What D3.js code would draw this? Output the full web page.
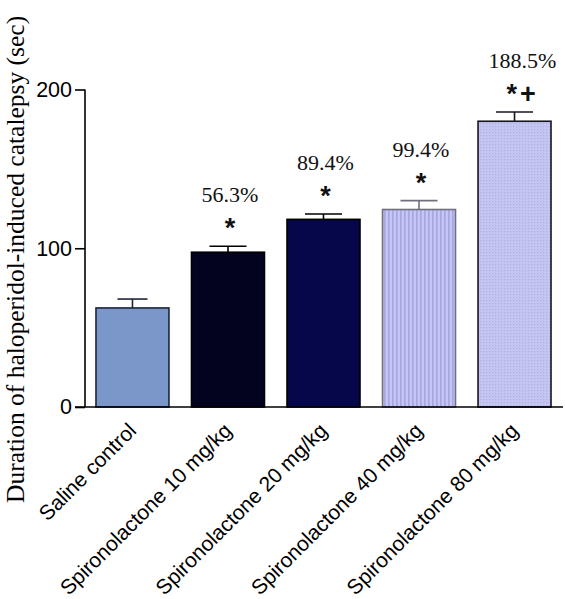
<!DOCTYPE html>
<html>
<head>
<meta charset="utf-8">
<script src="https://cdn.jsdelivr.net/npm/d3@7/dist/d3.min.js"></script>
<style>
  html, body { margin: 0; padding: 0; background: #fff; }
  svg { display: block; }
</style>
</head>
<body>
<script>
// ---- data ----
const categories = ["Saline control", "Spironolactone 10 mg/kg", "Spironolactone 20 mg/kg", "Spironolactone 40 mg/kg", "Spironolactone 80 mg/kg"];
const means = [62.4, 97.5, 118.2, 124.4, 180.0];
const sems = [5.6, 3.8, 3.4, 5.6, 5.8];
const percentLabels = ["", "56.3%", "89.4%", "99.4%", "188.5%"];
const sigLabels = ["", "*", "*", "*", "*+"];
const yTicks = [0, 100, 200];
const yTitle = "Duration of haloperidol-induced catalepsy (sec)";

// ---- styles ----
const fills = ["#7b97c9", "#03031f", "#06064a", "url(#stripes)", "url(#dots)"];
const strokes = ["#1c2438", "#000000", "#000000", "#70707e", "#15151f"];

const W = 565, H = 599;
const svg = d3.select("body").append("svg").attr("width", W).attr("height", H);

const defs = svg.append("defs");
const st = defs.append("pattern").attr("id", "stripes").attr("patternUnits", "userSpaceOnUse")
  .attr("width", 4).attr("height", 4);
st.append("rect").attr("width", 4).attr("height", 4).attr("fill", "#c6c6f4");
st.append("rect").attr("x", 0).attr("width", 1.6).attr("height", 4).attr("fill", "#a6a6e4");
const dt = defs.append("pattern").attr("id", "dots").attr("patternUnits", "userSpaceOnUse")
  .attr("width", 3).attr("height", 3);
dt.append("rect").attr("width", 3).attr("height", 3).attr("fill", "#c5c5f2");
dt.append("rect").attr("width", 1.2).attr("height", 1.2).attr("fill", "#b0b0e6");

const y = d3.scaleLinear().domain([0, 200]).range([407, 89.5]);
const x = d3.scaleBand().domain(categories).range([85, 562]).paddingInner(0.236).paddingOuter(0.115);

// bars
svg.selectAll("rect.bar").data(categories).enter().append("rect")
  .attr("class", "bar")
  .attr("x", d => x(d))
  .attr("y", (d, i) => y(means[i]))
  .attr("width", x.bandwidth())
  .attr("height", (d, i) => y(0) - y(means[i]))
  .attr("fill", (d, i) => fills[i])
  .attr("stroke", (d, i) => strokes[i])
  .attr("stroke-width", 1.6);

// error bars
const capW = i => (i === 0 ? 30 : 37);
const eb = svg.selectAll("g.err").data(categories).enter().append("g").attr("class", "err");
eb.append("line")
  .attr("x1", d => x(d) + x.bandwidth() / 2).attr("x2", d => x(d) + x.bandwidth() / 2)
  .attr("y1", (d, i) => y(means[i])).attr("y2", (d, i) => y(means[i] + sems[i]))
  .attr("stroke", (d, i) => strokes[i]).attr("stroke-width", 1.6);
eb.append("line")
  .attr("x1", (d, i) => x(d) + x.bandwidth() / 2 - capW(i) / 2)
  .attr("x2", (d, i) => x(d) + x.bandwidth() / 2 + capW(i) / 2)
  .attr("y1", (d, i) => y(means[i] + sems[i])).attr("y2", (d, i) => y(means[i] + sems[i]))
  .attr("stroke", (d, i) => strokes[i]).attr("stroke-width", 1.6);

// annotations
const shift = i => (i === 4 ? 8 : 2);
svg.selectAll("text.pct").data(categories).enter().append("text")
  .attr("class", "pct")
  .attr("x", (d, i) => x(d) + x.bandwidth() / 2 + shift(i))
  .attr("y", (d, i) => y(means[i] + sems[i]) - 44)
  .attr("text-anchor", "middle")
  .attr("font-family", "'Liberation Serif', 'Times New Roman', serif")
  .attr("font-size", 22)
  .attr("fill", "#111")
  .text((d, i) => percentLabels[i]);
svg.selectAll("text.sig").data(categories).enter().append("text")
  .attr("class", "sig")
  .attr("x", (d, i) => x(d) + x.bandwidth() / 2 + shift(i))
  .attr("y", (d, i) => y(means[i] + sems[i]) - 9)
  .attr("text-anchor", "middle")
  .attr("font-family", "'Liberation Sans', Arial, sans-serif")
  .attr("font-weight", "bold")
  .attr("font-size", 27)
  .attr("fill", "#111")
  .attr("letter-spacing", (d, i) => sigLabels[i].length > 1 ? 3 : 0)
  .text((d, i) => sigLabels[i]);

// y axis
const yAxis = d3.axisLeft(y).tickValues(yTicks).tickSize(10).tickPadding(3).tickFormat(d3.format("d"));
const gy = svg.append("g").attr("transform", "translate(85,0)").call(yAxis);
gy.select(".domain").attr("stroke", "#000").attr("stroke-width", 1.6).attr("d", `M0,${y(200)}V${y(0)}`);
gy.selectAll(".tick line").attr("stroke", "#000").attr("stroke-width", 1.6);
gy.selectAll(".tick text").attr("font-family", "'Liberation Sans', Arial, sans-serif")
  .attr("font-size", 21.5).attr("fill", "#000");

// x axis
const xAxis = d3.axisBottom(x).tickSize(0).tickPadding(0);
const gx = svg.append("g").attr("transform", `translate(0,${y(0)})`).call(xAxis);
gx.select(".domain").attr("stroke", "#000").attr("stroke-width", 1.6).attr("d", "M75,0H563");
gx.selectAll(".tick text")
  .attr("font-family", "'Liberation Sans', Arial, sans-serif")
  .attr("font-size", 21).attr("fill", "#000")
  .attr("text-anchor", "end")
  .attr("dy", null)
  .attr("transform", "translate(5,25) rotate(-45)");

// y title
svg.append("text")
  .attr("transform", "translate(24,503) rotate(-90)")
  .attr("text-anchor", "start")
  .attr("font-family", "'Liberation Serif', 'Times New Roman', serif")
  .attr("font-size", 25.5)
  .attr("fill", "#000")
  .text(yTitle);
</script>
</body>
</html>
